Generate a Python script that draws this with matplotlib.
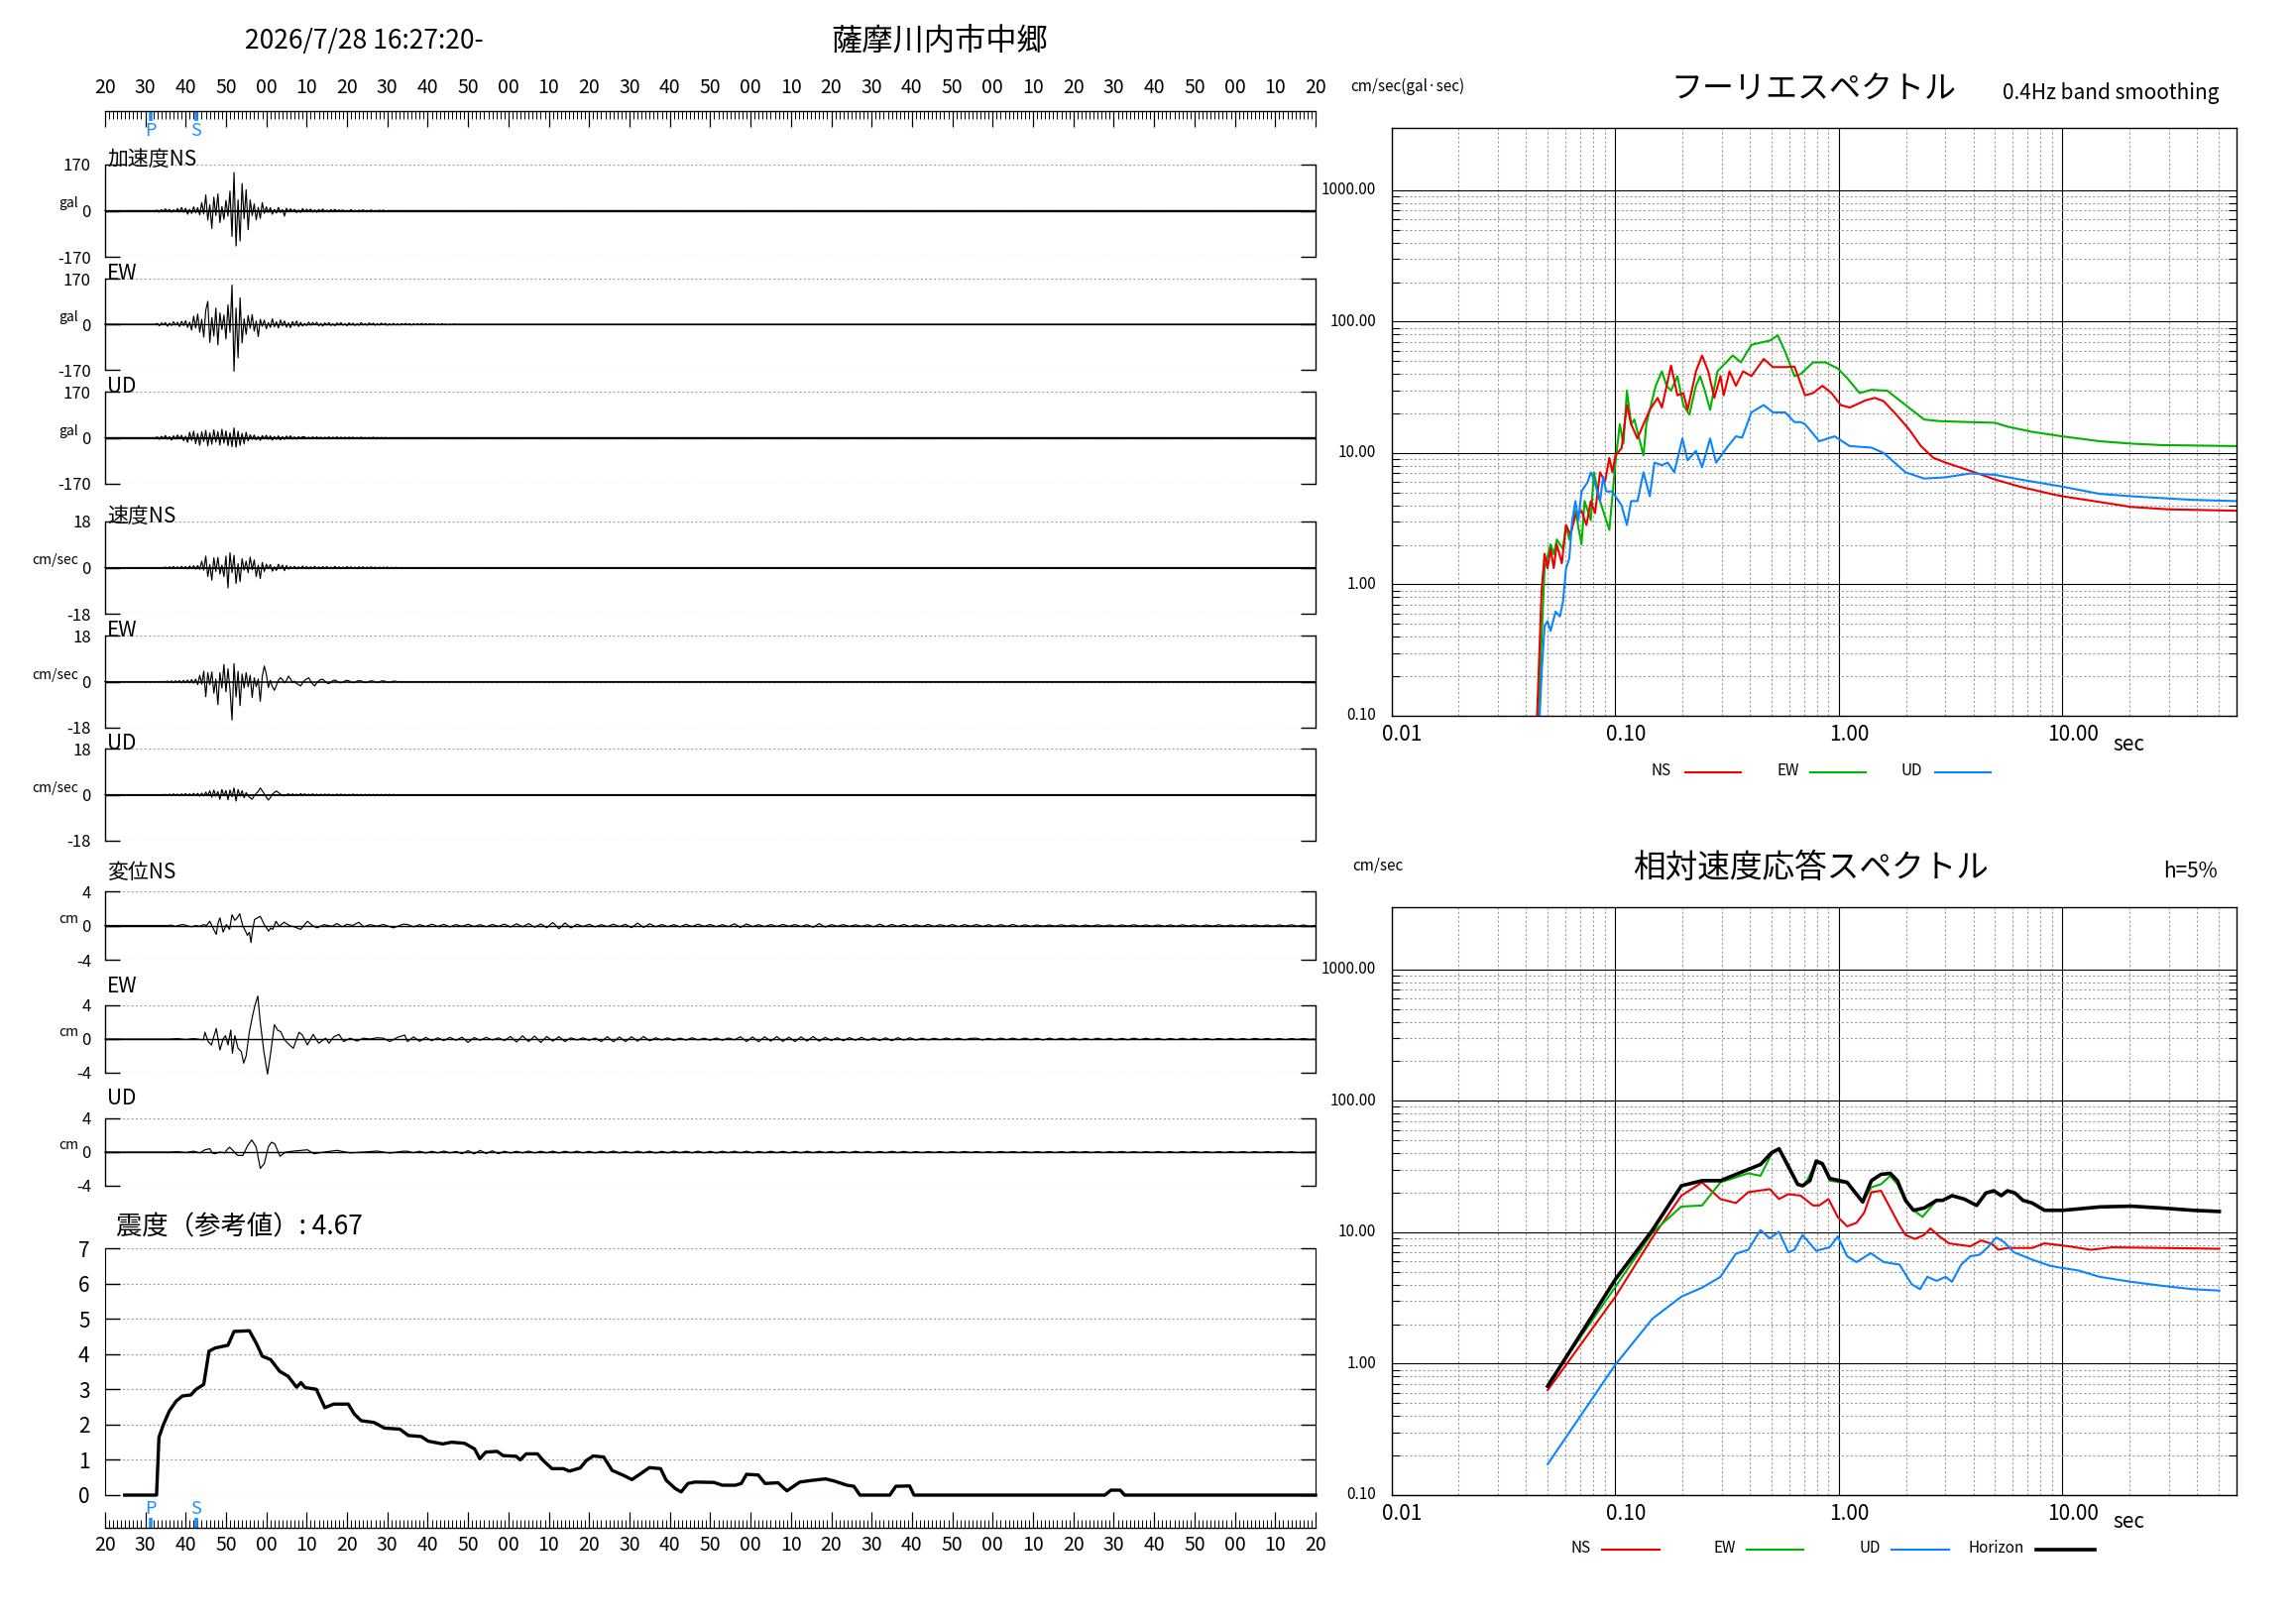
import numpy as np
import matplotlib
matplotlib.use('Agg')
import matplotlib.pyplot as plt
from matplotlib.lines import Line2D
from matplotlib.ticker import FixedLocator, MultipleLocator, NullFormatter
from matplotlib.transforms import blended_transform_factory, ScaledTranslation

plt.rcParams['font.family'] = ['Noto Sans CJK JP', 'DejaVu Sans']

# ---------------- DATA ----------------
title_time = '2026/7/28 16:27:20-'
station = '薩摩川内市中郷'
time_labels = ['20', '30', '40', '50', '00', '10', '20', '30', '40', '50', '00',
               '10', '20', '30', '40', '50', '00', '10', '20', '30', '40', '50',
               '00', '10', '20', '30', '40', '50', '00', '10', '20']
p_time = 11.4
s_time = 22.6

# acceleration (gal), sampled every 0.5 s from the listed start time
acc_t0 = 13.0
acc_ns = [2, -5, 4, -2, 7, -3, 5, -6, 3, -4, 8, -5,
          12, -6, 9, -13, 5, -10, 14, -8, 11, -15,
          30, -12, 58, -35, 22, -66, 50, -18, 62, -44,
          15, -32, 38, -20, 72, -95, 141, -130, 40, -112, 100, -30, 77, -70,
          40, -18, 25, -34, 12, -28, 30, -10,
          14, -6, 11, -13, 5, -9, 12, -7, 4, -20, 9, -5,
          7, -3, 5, -7, 2, -6, 8, -4, 5, -2, 6, -5, 3, -6, 4, -2, 6, -4, 2, -5, 4, -2, 5, -3,
          3, -1, 3, -3, 1, -2, 4, -2, 1, -3, 2, -1, 3, -2, 1, -2, 3, -3, 1, -2, 2, -1, 2, -1]
acc_ew = [3, -6, 5, -2, 6, -8, 4, -5, 9, -3, 7, -9,
          11, -5, 13, -12, 8,
          -22, 30, -14, 38, -30, 18, -48, 52, 85, -68, 25, -44, 60, -77, 42, -20, 34,
          -55, 72, -30, 146, -175, 60, -125, 98,
          -70, 20, -38, 32, -15, 36, -26, 12,
          -46,
          18, -8, 15, -17, 6, -12, 20, -10, 9, -14, 16, -6, 12, -11, 5, -13, 10, -6, 12, -9, 7,
          -7, 3, -5, 8, -4, 6, -2, 7, -6, 3, -7, 5, -3, 6, -5, 2, -6, 5, -3, 6, -4, 2, -6, 5,
          -3, 4, -5, 2, -4, 6, -3, 2, -4, 5, -2, 4, -4, 2, -3, 4, -2, 3, -4, 2, -3, 3,
          -3, 2, -3, 2, -2, 3, -2, 2, -3, 2, -2, 2, -2, 3, -2, 2, -2, 2, -1, 2, -2, 1, -2, 2,
          -1, 1, -2, 1, -1, 1]
acc_ud = [3, -6, 5, -3, 8, -5, 4, -9, 7, -5, 10, -4, 9, -11, 6,
          -17, 20, -10, 24, -22, 15, -28, 22, -14, 27, -30, 18, -24, 29, -16, 22, -27, 31,
          -20, 25, -29, 18, -33, 36, -35, 24, -28, 16, -22, 20, -12,
          11, -6, 10, -8, 5, -10, 8, -4, 9, -6, 7, -9, 5, -6, 7, -8, 4, -6, 6, -3, 7, -5, 3, -5,
          4, -2, 4,
          3, -3, 2, -3, 3, -2, 3, -2, 2, -3, 2, -2, 3, -2, 2, -2, 3, -2, 2, -2, 2, -2, 2, -1,
          2, -2, 1, -2, 2, -1, 1, -2, 1, -1, 2, -1, 1, -1, 1, -1, 1, -1]

# velocity (cm/sec), sampled every 0.5 s
vel_ns_t0 = 15.0
vel_ns = [0.2, -0.3, 0.3, -0.2, 0.4, -0.3, 0.3, -0.4, 0.5, -0.3, 0.4, -0.5, 0.6, -0.4, 0.7, -0.6, 0.8, -0.7,
          2.5, -1.0, 4.5, -3.5, 1.2, -4.9, 3.8, -1.5, 4.0, -2.5,
          1.0, -3.5, 4.5, -7.9, 5.8, -2.0, 4.8, -6.2, 1.5, -5.5, 3.5, -1.0, 2.5, -2.0,
          4.1, -0.8, 3.0, -3.5, 1.0, -4.3, 2.0, -1.5,
          1.3, -0.4, 1.2, -1.4, 0.3, -1.1, 1.3, -0.5, 1.0, -1.2, 0.8,
          -0.6, 0.4, -0.3, 0.5, -0.5, 0.3, -0.4, 0.6, -0.3, 0.4, -0.5, 0.3, -0.2, 0.5, -0.4, 0.3,
          -0.5, 0.4, -0.3, 0.4, -0.3, 0.2, -0.4, 0.5, -0.3, 0.3, -0.4, 0.2, -0.3, 0.4, -0.2, 0.3,
          -0.3, 0.2, -0.4, 0.3, -0.2, 0.3, -0.3, 0.2, -0.2, 0.3, -0.2, 0.2, -0.3, 0.2, -0.2, 0.2,
          -0.1, 0.2, -0.2, 0.1, -0.1, 0.1]
vel_ew_t0 = 15.5
vel_ew = [0.2, -0.3, 0.3, -0.4, 0.3, -0.2, 0.4, -0.5, 0.5, -0.4, 0.6, -0.5, 0.8, -0.6, 1.0, -1.2,
          2.5, -1.0, 4.1, -5.9, 3.5, -1.2, 3.8, -4.5, 1.0, -9.0, 3.5,
          -2.5, 6.7, -4.0, 5.0, -3.0, -15.0, 7.0, -6.0, 4.0, -9.4,
          3.0, -2.5, 3.5, -2.0, 2.5, -6.2, 1.5, -2.0, 1.0, -7.7, 2.0, 6.1, 3.0, -2.3, 0.5,
          -2.0, -3.4, -1.5, 0.5, 1.5, 0.8, -0.5, 0.5, 2.2, 1.0, -0.3, 0.2, -0.8, -1.2, -1.7, -0.5,
          0.5, 1.0, 1.5, 0.2, -1.0, -1.7, -0.5, 0.3, 0.8, 0.9, 0.2, -0.5, -0.8, -0.3, 0.4, 0.6,
          0.2, -0.3, -0.5, -0.2, 0.3, 0.5, 0.3, -0.2, -0.4, -0.3, 0.2, 0.4, 0.3, -0.1, -0.4, -0.3,
          0.1, 0.3, 0.2, -0.2, -0.3, -0.1, 0.2, 0.3, 0.1, -0.2, -0.2, 0.0, 0.2, 0.1]
vel_ud_t0 = 15.0
vel_ud = [0.1, -0.2, 0.2, -0.2, 0.3, -0.2, 0.2, -0.3, 0.3, -0.2, 0.4, -0.3, 0.3, -0.4, 0.5, -0.4,
          0.5, -0.6, 0.6, -0.5,
          1.0, -0.4, 1.5, -1.0, 1.8, -0.6, 1.2, -1.8, 2.0, -0.5, 1.6, -2.0, 1.8, -0.8, 2.6, -2.5,
          2.0, -0.6, 1.5, -1.2,
          0.8, -0.5, -1.2, -1.8, -0.5, 0.5, 1.2, 2.6, 1.5, 0.3, -1.0, -2.1, -1.2, 0.2, 0.8, 1.4,
          0.8, 0.2, -0.3, -0.5, 0.0,
          0.3, -0.2, 0.3, -0.3, 0.2, -0.3, 0.4, -0.2, 0.3, -0.3, 0.2, -0.2, 0.3, -0.2, 0.2, -0.3,
          0.2, -0.2, 0.2, -0.1, 0.2, -0.2, 0.1, -0.2, 0.2, -0.1, 0.2, -0.1, 0.1, -0.2, 0.1, -0.1,
          0.2, -0.1, 0.1, -0.1, 0.1, -0.2, 0.1, -0.1, 0.1, -0.1, 0.1, -0.1, 0.1, -0.1, 0.1, -0.1,
          0.1, -0.1, 0.1, -0.1, 0.1, -0.1]

# displacement (cm): (time s, value) in the main part, then tail values every 1.5 s from 75 s
disp_ns = [(15.8, 0), (16.5, 0.05), (17.5, -0.1), (18.5, 0.05), (19.5, 0.1), (20.5, -0.05),
           (21.5, -0.15), (22.5, 0.0), (23.5, -0.1), (24.5, 0.1), (25.2, 0.0), (26.0, 0.5),
           (26.8, -0.3), (27.6, -1.04), (28.0, 0.2), (28.5, 0.9), (29.3, -0.77), (30.1, 0.1),
           (30.9, -0.45), (31.5, 1.27), (32.2, 0.6), (32.8, 0.9), (33.4, 1.38), (34.2, -0.1),
           (34.8, -0.6), (35.3, -1.15), (35.8, -0.8), (36.2, -2.0), (36.6, -0.5), (37.1, 0.7),
           (38.5, 1.08), (39.5, 0.1), (40.6, -0.65), (41.1, -0.3), (41.6, -0.45), (42.4, 0.5),
           (43.2, -0.1), (44.4, 0.38), (45.7, 0.0), (46.9, -0.15), (48.5, -0.46), (50.2, 0.5),
           (51.4, 0.0), (52.6, -0.27), (54.3, 0.1), (56.3, -0.1), (57.5, 0.23), (58.8, -0.15),
           (60.0, 0.15), (61.4, 0.0), (62.9, 0.38), (64.1, -0.15), (65.7, 0.1), (67.4, -0.08),
           (69.0, 0.12), (71.5, -0.27), (73.9, 0.15)]
disp_ns_tail = [0.12, -0.15, 0.1, -0.12, 0.15, -0.1, 0.13, -0.16, 0.11, -0.09, 0.14, -0.12, 0.1, -0.15,
                0.12, -0.1, 0.16,
                -0.18, 0.2, -0.15, 0.22, -0.2, 0.18, -0.25,
                0.35, -0.38, 0.3, -0.28,
                0.15, -0.12, 0.14, -0.16, 0.1, -0.13, 0.15, -0.12, 0.14,
                -0.25, 0.28, -0.22, 0.2,
                -0.15, 0.12, -0.14, 0.1, -0.16, 0.13, -0.12, 0.15, -0.1, 0.12, -0.14, 0.1, -0.13,
                0.2, -0.22, 0.18,
                -0.12, 0.1, -0.13, 0.11, -0.1, 0.12, -0.09, 0.11, -0.12, 0.1,
                -0.2, 0.22, -0.18,
                0.1, -0.08, 0.1, -0.09, 0.08, -0.1, 0.09,
                -0.15, 0.16, -0.14,
                0.12, -0.1, 0.11, -0.12, 0.09, -0.1, 0.12, -0.11, 0.1, -0.09, 0.11, -0.12, 0.1, -0.08,
                0.11, -0.1, 0.09, -0.11, 0.1, -0.09, 0.12, -0.1, 0.08, -0.1,
                0.07, -0.08, 0.06, -0.07, 0.08, -0.06, 0.07, -0.09, 0.06, -0.07, 0.08, -0.07, 0.06,
                -0.08, 0.07, -0.06, 0.08, -0.07, 0.06, -0.07, 0.07, -0.08, 0.06, -0.07, 0.08, -0.06,
                0.07, -0.08, 0.06, -0.07, 0.08, -0.07, 0.06, -0.08, 0.07, -0.06, 0.07, -0.07, 0.06,
                -0.08, 0.07, -0.06, 0.08, -0.07, 0.06, -0.07]
disp_ew = [(16.0, 0.0), (18.0, 0.05), (20.0, -0.05), (22.0, 0.05), (23.5, -0.05), (24.4, -0.1),
           (24.8, 0.8), (25.6, -0.3), (26.4, -0.7), (27.0, 0.3), (27.6, 1.25), (28.5, -1.3),
           (29.3, 0.0), (29.9, 0.4), (30.5, -0.7), (31.2, 1.06), (31.6, -1.7), (32.2, 0.4),
           (33.0, -1.1), (33.8, -1.5), (34.4, -2.86), (35.0, -2.0), (35.8, 0.86), (36.7, 3.0),
           (37.2, 4.0), (37.9, 5.1), (38.5, 2.0), (39.4, -1.5), (40.3, -4.16), (41.0, -1.9),
           (42.0, 1.7), (42.8, 1.06), (43.6, 0.86), (44.4, 0.0), (45.3, -0.5), (46.7, -1.1),
           (48.1, 0.8), (48.9, 0.5), (50.2, -0.7), (51.6, 0.55), (53.0, -0.5), (54.7, 0.1),
           (55.5, -0.5), (56.7, 0.25), (58.0, 0.55), (59.2, -0.3), (60.8, 0.1), (62.5, -0.25),
           (64.0, 0.1), (65.7, 0.0), (67.5, 0.15), (69.0, 0.1), (70.6, -0.3), (72.5, 0.2),
           (74.3, 0.47)]
disp_ew_tail = [-0.3, 0.25, -0.28, 0.2,
                -0.2, 0.15, -0.18, 0.2, -0.15, 0.22, -0.4, 0.18, -0.15, 0.2, -0.12, 0.15, -0.18,
                0.3, -0.35, 0.38, -0.3, 0.35, -0.4, 0.3, -0.25, 0.28, -0.3,
                0.15, -0.12, 0.14, -0.15, 0.12,
                -0.3, 0.28, -0.32, 0.25, -0.3, 0.27, -0.25, 0.3, -0.22,
                0.15, -0.12, 0.14, -0.16, 0.12, -0.13, 0.15, -0.12, 0.1, -0.14, 0.12, -0.15, 0.13, -0.1,
                0.28, -0.3, 0.25, -0.32, 0.27, -0.25, 0.3, -0.28, 0.22, -0.3, 0.26, -0.24, 0.3, -0.25,
                0.2, -0.18, 0.15, -0.2, 0.17, -0.15, 0.2, -0.16, 0.14, -0.18, 0.15, -0.2, 0.16, -0.14,
                0.15,
                -0.12, 0.1, -0.11, 0.09, -0.1, 0.12, -0.09, 0.1, -0.11, 0.08, 0.1, -0.12, 0.09, -0.1,
                0.11, -0.08, 0.1, -0.09, 0.11, -0.1, 0.09, -0.11, 0.1, -0.08, 0.1, -0.09, 0.11, -0.1,
                0.08, -0.09, 0.1, -0.08, 0.09, -0.1, 0.08, -0.09, 0.1, -0.08, 0.09, -0.07, 0.08, -0.09,
                0.07, -0.08, 0.09, -0.07, 0.08, -0.08, 0.07, -0.08, 0.07, -0.06, 0.08, -0.07, 0.06,
                -0.07, 0.08, -0.06, 0.07, -0.06, 0.06, -0.07, 0.06, -0.05, 0.06, -0.05]
disp_ud = [(16.0, 0.0), (18.0, 0.05), (20.0, -0.05), (22.0, 0.1), (23.5, -0.1), (24.8, 0.27),
           (26.0, 0.4), (26.6, -0.1), (27.2, -0.2), (28.5, 0.0), (29.7, -0.1), (30.3, 0.3),
           (30.9, 0.58), (31.7, 0.2), (32.4, -0.2), (33.0, -0.4), (34.2, -0.4), (35.4, 0.78),
           (36.4, 1.44), (37.5, 0.58), (38.5, -1.94), (39.5, -1.36), (40.5, 0.6), (41.3, 1.17),
           (42.1, 0.97), (43.4, -0.5), (44.8, 0.0), (46.9, 0.12), (50.2, 0.27), (51.8, -0.2),
           (54.3, 0.0), (57.5, 0.2), (60.8, -0.1), (64.1, 0.0), (67.4, 0.12), (70.6, -0.12),
           (73.9, 0.1)]
disp_ud_tail = [0.1, -0.08, 0.1, -0.12, 0.09, -0.1, 0.12, -0.1, 0.08,
                -0.2, 0.18, -0.22, 0.2, -0.18, 0.15, -0.2,
                0.1, -0.12, 0.09, -0.1, 0.12, -0.11, 0.1, -0.09, 0.11, -0.12, 0.1, -0.08, 0.11, -0.1,
                0.09, -0.11, 0.1, -0.09, 0.12, -0.1, 0.08, -0.1, 0.11, -0.09, 0.1, -0.12, 0.09, -0.1,
                0.11, -0.08, 0.1, -0.09, 0.11, -0.1, 0.09, -0.11, 0.1, -0.08, 0.1, -0.09, 0.11, -0.1,
                0.08, -0.09, 0.1, -0.08, 0.09, -0.1, 0.08, -0.09, 0.1, -0.08, 0.09, -0.07, 0.08, -0.09,
                0.07, -0.08, 0.09, -0.07, 0.08, -0.08, 0.07, -0.08, 0.09, -0.07, 0.08, -0.08,
                0.06, -0.07, 0.06, -0.05, 0.06, -0.07, 0.05, -0.06, 0.07, -0.05, 0.06, -0.06, 0.05,
                -0.06, 0.07, -0.05, 0.06, -0.06, 0.05, -0.07, 0.06, -0.05, 0.06, -0.06, 0.05, -0.06,
                0.07, -0.05, 0.06, -0.06, 0.05, -0.06, 0.06, -0.05, 0.07, -0.06, 0.05, -0.06, 0.06,
                -0.05, 0.06, -0.06, 0.05, -0.06, 0.06, -0.05, 0.06, -0.05, 0.05, -0.06, 0.05, -0.05,
                0.06, -0.05, 0.05, -0.06, 0.05, -0.05, 0.05, -0.04, 0.05, -0.05, 0.04, -0.05]

# seismic intensity (reference value) vs time
int_t = [4.9, 12.8, 13.4, 14.5, 16.0, 17.7, 19.2, 21.3, 22.6, 24.5, 25.8, 27.3, 30.5, 32.0, 35.8,
         37.5, 39.0, 41.1, 43.3, 45.4, 47.5, 48.6, 49.6, 52.4, 54.5, 56.7, 60.3, 61.8, 63.5, 66.7,
         69.3, 73.1, 75.2, 78.4, 80.1, 83.7, 85.9, 89.1, 91.6, 92.9, 94.4, 97.2, 98.7, 101.9, 102.9,
         104.4, 107.2, 108.7, 110.8, 113.6, 115.1, 117.8, 119.3, 121.0, 123.6, 125.7, 128.5, 130.6,
         132.8, 134.9, 137.7, 139.1, 141.3, 142.8, 144.5, 146.2, 150.9, 153.0, 156.2, 157.7, 159.0,
         161.9, 163.6, 166.8, 169.0, 172.2, 175.4, 178.6, 180.7, 183.9, 185.6, 187.1, 194.5, 196.0,
         199.4, 200.5, 247.8, 249.3, 251.6, 252.7, 300]
int_v = [0, 0, 1.64, 2.0, 2.39, 2.67, 2.81, 2.84, 3.0, 3.14, 4.08, 4.17, 4.25, 4.64, 4.66, 4.31,
         3.94, 3.84, 3.51, 3.37, 3.06, 3.19, 3.05, 3.0, 2.48, 2.58, 2.58, 2.30, 2.11, 2.06, 1.90,
         1.87, 1.69, 1.66, 1.53, 1.45, 1.50, 1.47, 1.31, 1.03, 1.22, 1.24, 1.12, 1.10, 1.00, 1.17,
         1.17, 0.97, 0.75, 0.75, 0.68, 0.77, 0.98, 1.11, 1.08, 0.70, 0.56, 0.44, 0.61, 0.78, 0.75,
         0.42, 0.19, 0.09, 0.33, 0.37, 0.36, 0.28, 0.28, 0.33, 0.59, 0.57, 0.33, 0.35, 0.12, 0.37,
         0.42, 0.46, 0.40, 0.28, 0.25, 0, 0, 0.25, 0.26, 0, 0, 0.14, 0.14, 0, 0]
intensity_value = '4.67'

# Fourier spectra: (period s, amplitude cm/sec)
fou_ns = [(0.0448, 0.1), (0.0460, 0.34), (0.0469, 0.87), (0.0484, 1.71), (0.0499, 1.33), (0.0515, 1.86),
          (0.0532, 1.33), (0.0549, 2.02), (0.0578, 1.45), (0.0604, 2.83), (0.0632, 2.39), (0.0665, 3.35),
          (0.0708, 3.64), (0.0745, 2.83), (0.0779, 4.31), (0.0814, 3.49), (0.0857, 7.14), (0.0902, 6.04),
          (0.0943, 9.2), (0.0973, 7.14), (0.1004, 9.59), (0.107, 10.9), (0.113, 23.2), (0.118, 16.6),
          (0.126, 12.9), (0.134, 16.6), (0.143, 21.3), (0.155, 26.3), (0.162, 22.2), (0.178, 46.3),
          (0.190, 27.5), (0.202, 28.6), (0.211, 21.3), (0.230, 41.9), (0.245, 55.2), (0.261, 41.9),
          (0.278, 26.3), (0.296, 38.5), (0.306, 27.5), (0.325, 41.9), (0.347, 32.5), (0.374, 41.9),
          (0.407, 38.5), (0.462, 52.0), (0.508, 45.1), (0.577, 45.1), (0.634, 45.5), (0.707, 27.5),
          (0.768, 28.6), (0.845, 32.5), (0.929, 28.6), (1.02, 23.2), (1.12, 22.2), (1.32, 25.2),
          (1.45, 26.3), (1.59, 24.8), (1.81, 19.6), (2.06, 15.2), (2.33, 11.3), (2.65, 9.2),
          (3.01, 8.45), (3.88, 7.32), (5.00, 6.29), (6.45, 5.55), (8.87, 4.89), (10.0, 4.69),
          (14.7, 4.24), (20.3, 3.89), (29.7, 3.73), (60.0, 3.64)]
fou_ew = [(0.0454, 0.1), (0.0469, 0.37), (0.0484, 1.33), (0.0515, 2.02), (0.0532, 1.7), (0.0549, 2.2),
          (0.0585, 1.86), (0.0604, 2.83), (0.0624, 2.2), (0.0665, 3.64), (0.0708, 2.02), (0.0731, 4.31),
          (0.0779, 3.08), (0.0804, 7.14), (0.0857, 4.31), (0.0913, 3.08), (0.0943, 2.6), (0.0973, 4.69),
          (0.1004, 8.45), (0.105, 16.6), (0.109, 11.8), (0.113, 29.9), (0.118, 16.6), (0.122, 18.0),
          (0.130, 11.8), (0.134, 9.59), (0.138, 16.6), (0.143, 21.3), (0.152, 32.5), (0.162, 41.9),
          (0.170, 32.5), (0.178, 29.9), (0.190, 38.5), (0.202, 23.2), (0.215, 19.6), (0.230, 32.5),
          (0.240, 38.5), (0.252, 29.9), (0.266, 21.3), (0.287, 41.9), (0.336, 55.3), (0.365, 49.0),
          (0.407, 66.5), (0.447, 69.3), (0.492, 71.7), (0.534, 78.7), (0.577, 58.6), (0.634, 38.5),
          (0.676, 40.0), (0.768, 49.0), (0.872, 49.0), (0.990, 44.0), (1.09, 37.3), (1.24, 28.6),
          (1.40, 30.3), (1.65, 29.8), (1.99, 23.2), (2.41, 18.0), (2.82, 17.5), (3.88, 17.2),
          (5.00, 17.0), (5.68, 15.9), (7.33, 14.5), (10.0, 13.4), (14.7, 12.3), (20.3, 11.8),
          (27.8, 11.5), (60.0, 11.3)]
fou_ud = [(0.0460, 0.1), (0.0472, 0.246), (0.0484, 0.48), (0.0499, 0.525), (0.0515, 0.443), (0.0542, 0.62),
          (0.0567, 0.571), (0.0585, 0.74), (0.0604, 1.33), (0.0624, 1.57), (0.0644, 3.08), (0.0665, 4.31),
          (0.0686, 3.08), (0.0708, 5.10), (0.0755, 6.04), (0.0779, 7.14), (0.0804, 6.3), (0.0857, 4.31),
          (0.0885, 6.6), (0.0913, 5.1), (0.0973, 5.1), (0.1004, 4.69), (0.107, 3.98), (0.113, 2.83),
          (0.118, 4.31), (0.126, 4.31), (0.134, 7.14), (0.143, 4.69), (0.150, 8.45), (0.162, 8.1),
          (0.172, 8.45), (0.184, 7.14), (0.200, 12.9), (0.211, 8.8), (0.230, 10.4), (0.245, 7.8),
          (0.266, 12.9), (0.283, 8.45), (0.315, 10.9), (0.347, 13.4), (0.370, 13.1), (0.407, 20.4),
          (0.462, 23.2), (0.508, 20.4), (0.577, 20.4), (0.634, 17.2), (0.676, 17.2), (0.707, 16.6),
          (0.818, 12.3), (0.959, 13.4), (1.12, 11.3), (1.40, 11.0), (1.59, 10.0), (1.99, 7.14),
          (2.41, 6.4), (3.01, 6.54), (3.88, 7.0), (5.00, 6.83), (6.45, 6.3), (10.0, 5.55),
          (14.7, 4.89), (20.3, 4.69), (38.3, 4.4), (60.0, 4.31)]

# relative velocity response spectra, h=5%: (period s, cm/sec)
rsp_ns = [(0.05, 0.629), (0.1004, 3.24), (0.147, 9.14), (0.198, 19.0), (0.245, 24.0), (0.296, 17.9),
          (0.347, 16.7), (0.394, 20.2), (0.492, 21.3), (0.541, 17.9), (0.595, 19.5), (0.676, 19.0),
          (0.768, 16.0), (0.818, 16.0), (0.90, 17.9), (0.99, 13.1), (1.09, 11.1), (1.20, 11.8),
          (1.30, 14.1), (1.40, 20.2), (1.545, 20.7), (1.70, 15.3), (1.87, 11.3), (1.99, 9.54),
          (2.19, 8.9), (2.41, 9.54), (2.57, 10.7), (2.82, 9.3), (3.11, 8.24), (3.88, 7.82),
          (4.33, 8.67), (4.85, 8.16), (5.17, 7.36), (5.68, 7.6), (7.33, 7.6), (8.32, 8.24),
          (10.7, 7.82), (13.4, 7.36), (16.7, 7.68), (27.8, 7.6), (50.3, 7.49)]
rsp_ew = [(0.05, 0.697), (0.1004, 3.85), (0.147, 9.96), (0.198, 15.7), (0.245, 16.0), (0.296, 24.0),
          (0.394, 28.1), (0.447, 26.9), (0.501, 39.6), (0.541, 43.2), (0.595, 30.6), (0.663, 22.6),
          (0.707, 23.2), (0.793, 33.9), (0.845, 32.8), (0.911, 24.7), (1.09, 23.6), (1.28, 17.0),
          (1.40, 22.0), (1.545, 23.2), (1.70, 26.9), (1.83, 23.2), (1.99, 17.0), (2.16, 14.7),
          (2.37, 13.1), (2.74, 17.5), (2.92, 17.5), (3.21, 19.0), (3.64, 17.9), (4.14, 16.0),
          (4.55, 19.9), (4.94, 20.7), (5.33, 19.0), (5.68, 20.7), (6.14, 19.9), (6.66, 17.5),
          (7.33, 16.7), (8.32, 14.7), (10.1, 14.7), (14.7, 15.6), (20.3, 15.8), (27.8, 15.3),
          (38.3, 14.7), (50.3, 14.4)]
rsp_ud = [(0.05, 0.172), (0.1004, 0.985), (0.147, 2.20), (0.198, 3.24), (0.245, 3.79), (0.296, 4.58),
          (0.347, 6.87), (0.394, 7.36), (0.447, 10.4), (0.492, 8.98), (0.541, 10.1), (0.595, 7.05),
          (0.634, 7.36), (0.689, 9.54), (0.793, 7.23), (0.911, 7.69), (0.99, 9.3), (1.09, 6.58),
          (1.20, 5.93), (1.39, 6.93), (1.59, 5.93), (1.87, 5.68), (2.12, 4.02), (2.31, 3.69),
          (2.49, 4.58), (2.74, 4.27), (3.01, 4.58), (3.21, 4.2), (3.53, 5.68), (3.88, 6.58),
          (4.27, 6.75), (4.64, 7.69), (5.07, 9.14), (5.51, 8.38), (6.06, 7.05), (7.33, 6.19),
          (8.87, 5.54), (10.0, 5.35), (11.8, 5.12), (14.7, 4.58), (20.3, 4.2), (27.8, 3.92),
          (38.3, 3.69), (50.3, 3.6)]
rsp_h = [(0.05, 0.674), (0.1004, 4.39), (0.147, 10.4), (0.198, 22.6), (0.245, 24.7), (0.296, 24.7),
         (0.394, 30.1), (0.447, 32.8), (0.501, 40.3), (0.541, 43.2), (0.595, 31.9), (0.655, 23.2),
         (0.689, 22.6), (0.743, 24.7), (0.793, 34.8), (0.845, 33.3), (0.911, 25.7), (1.09, 24.0),
         (1.28, 17.0), (1.40, 24.7), (1.545, 27.6), (1.70, 28.1), (1.83, 24.7), (1.99, 17.5),
         (2.16, 14.7), (2.41, 15.3), (2.74, 17.5), (2.92, 17.5), (3.21, 19.0), (3.64, 17.9),
         (4.14, 16.0), (4.55, 19.9), (4.94, 20.7), (5.33, 19.0), (5.68, 20.7), (6.14, 19.9),
         (6.66, 17.5), (7.33, 16.7), (8.32, 14.7), (10.1, 14.7), (14.7, 15.6), (20.3, 15.8),
         (27.8, 15.3), (38.3, 14.7), (50.3, 14.4)]

spec_xticks = [0.01, 0.1, 1, 10]
spec_xlabels = ['0.01', '0.10', '1.00', '10.00']
spec_yticks = [0.1, 1, 10, 100, 1000]
spec_ylabels = ['0.10', '1.00', '10.00', '100.00', '1000.00']

# ---------------- FIGURE ----------------
W, H = 2316, 1637
fig = plt.figure(figsize=(W / 100, H / 100), dpi=100)
fig.patch.set_facecolor('white')


def fx(px):
    return px / W


def fy(py):
    return 1 - py / H


AX_L, AX_R = 105.8, 1327.0
GRAY = '#9a9a9a'
DOT = (0, (1.5, 2.0))
RED, GREEN, BLUE = '#ee0000', '#00b400', '#0a84ff'
PS_BLUE = '#1e8fff'


def sampled(t0, vals, dt=0.5):
    t = t0 + dt * np.arange(len(vals))
    return (np.concatenate([[0, t0 - dt], t, [t[-1] + dt, 300]]),
            np.concatenate([[0, 0], np.asarray(vals, float), [0, 0]]))


def paired(pairs, tail):
    t = [p[0] for p in pairs]
    v = [p[1] for p in pairs]
    tt = 75.0 + 1.5 * np.arange(len(tail))
    return (np.concatenate([[0], t, tt, [300]]),
            np.concatenate([[0], v, tail, [0]]))


def fmt(v):
    return str(v)


def wave_panel(top, bottom, lim, unit, t, v, base_lw):
    ax = fig.add_axes([fx(AX_L), fy(bottom), fx(AX_R) - fx(AX_L), (bottom - top) / H])
    ax.set_xlim(0, 300)
    ax.set_ylim(-lim, lim)
    for s in ('top', 'bottom'):
        ax.spines[s].set_visible(False)
    for s in ('left', 'right'):
        ax.spines[s].set_linewidth(1.0)
    for yv in (-lim, 0, lim):
        ax.axhline(yv, color=GRAY, lw=0.9, ls=DOT, zorder=1)
    ax.plot([0, 300], [0, 0], color='black', lw=base_lw, zorder=2)
    ax.plot(t, v, color='black', lw=0.85, zorder=3, clip_on=False)
    ax.set_xticks([])
    ax.set_yticks([lim, 0, -lim], [fmt(lim), '0', fmt(-lim)])
    ax.tick_params(axis='y', direction='in', length=11, width=1, left=True, right=True,
                   labelsize=12, pad=10)
    tr = blended_transform_factory(fig.transFigure, ax.transData)
    ax.text(fx(79), 0, unit, transform=tr, ha='right', va='bottom', fontsize=10)
    return ax


# waveform panels: (top px, bottom px, label y px, label)
panels = [
    (166, 259, 161, '加速度NS', 170, 'gal', sampled(acc_t0, acc_ns), 1.6),
    (281, 373, 276, 'EW', 170, 'gal', sampled(acc_t0, acc_ew), 0.9),
    (395, 488, 390, 'UD', 170, 'gal', sampled(acc_t0, acc_ud), 1.6),
    (526, 619, 521, '速度NS', 18, 'cm/sec', sampled(vel_ns_t0, vel_ns), 1.3),
    (641, 734, 636, 'EW', 18, 'cm/sec', sampled(vel_ew_t0, vel_ew), 1.1),
    (755, 848, 750, 'UD', 18, 'cm/sec', sampled(vel_ud_t0, vel_ud), 1.3),
    (899, 968, 880, '変位NS', 4, 'cm', paired(disp_ns, disp_ns_tail), 1.0),
    (1014, 1082, 995, 'EW', 4, 'cm', paired(disp_ew, disp_ew_tail), 1.0),
    (1128, 1196, 1108, 'UD', 4, 'cm', paired(disp_ud, disp_ud_tail), 1.0),
]
for top, bottom, ly, name, lim, unit, (t, v), blw in panels:
    wave_panel(top, bottom, lim, unit, t, v, blw)
    fig.text(fx(108), fy(ly), name, ha='left', va='center', fontsize=15)

# intensity panel
axi = fig.add_axes([fx(AX_L), fy(1508), fx(AX_R) - fx(AX_L), (1508 - 1259) / H])
axi.set_xlim(0, 300)
axi.set_ylim(0, 7)
for s in ('top', 'bottom'):
    axi.spines[s].set_visible(False)
for k in range(8):
    axi.axhline(k, color=GRAY, lw=0.9, ls=DOT, zorder=1)
axi.plot(int_t, int_v, color='black', lw=2.4, zorder=3, clip_on=False)
axi.set_xticks([])
axi.set_yticks(range(8), [str(k) for k in range(8)])
axi.tick_params(axis='y', direction='in', length=11, width=1, left=True, right=True,
                labelsize=15, pad=11)
fig.text(fx(117), fy(1238), '震度（参考値）: ' + intensity_value, ha='left', va='center', fontsize=19)


# time rulers
def ruler(y_line, top_side):
    w = fx(AX_R) - fx(AX_L)
    if top_side:
        ax = fig.add_axes([fx(AX_L), fy(y_line) - 0.001, w, 0.001])
    else:
        ax = fig.add_axes([fx(AX_L), fy(y_line), w, 0.001])
    ax.patch.set_visible(False)
    ax.set_xlim(0, 300)
    ax.set_ylim(0, 1)
    for s in ('left', 'right'):
        ax.spines[s].set_visible(False)
    ax.spines['bottom' if top_side else 'top'].set_visible(False)
    ax.spines['top' if top_side else 'bottom'].set_linewidth(1.0)
    ax.set_xticks(np.arange(0, 301, 10), time_labels)
    ax.xaxis.set_minor_locator(MultipleLocator(1))
    ax.set_yticks([])
    if top_side:
        ax.tick_params(axis='x', which='both', direction='in', top=True, bottom=False,
                       labeltop=True, labelbottom=False)
        ax.tick_params(axis='x', which='major', pad=9)
    else:
        ax.tick_params(axis='x', which='both', direction='in', top=False, bottom=True,
                       labeltop=False, labelbottom=True)
        ax.tick_params(axis='x', which='major', pad=5)
    ax.tick_params(axis='x', which='major', length=11.5, width=0.9, labelsize=14)
    ax.tick_params(axis='x', which='minor', length=5.8, width=0.7)
    tr = blended_transform_factory(ax.transData, fig.transFigure)
    for tt, lab in ((p_time, 'P'), (s_time, 'S')):
        if top_side:
            ax.plot([tt, tt], [fy(y_line), fy(y_line + 10)], transform=tr, color=PS_BLUE,
                    lw=2.6, clip_on=False, solid_capstyle='butt')
            ax.text(tt, fy(y_line + 20), lab, transform=tr, color=PS_BLUE, ha='center',
                    va='center', fontsize=13)
        else:
            ax.plot([tt, tt], [fy(y_line + 1), fy(y_line - 10)], transform=tr, color=PS_BLUE,
                    lw=2.6, clip_on=False, solid_capstyle='butt')
            ax.text(tt, fy(y_line - 19), lab, transform=tr, color=PS_BLUE, ha='center',
                    va='center', fontsize=13)
    return ax


ruler(112, True)
ruler(1541, False)

fig.text(fx(367), fy(42), title_time, ha='center', va='center', fontsize=19)
fig.text(fx(948), fy(42), station, ha='center', va='center', fontsize=22.5)

# spectra
SX0, SX1 = 1403.5, 2255.9
ymin_ticks = [k * 10.0 ** e for e in (-1, 0, 1, 2) for k in range(2, 10)]
xmin_ticks = [k * 10.0 ** e for e in (-2, -1, 0, 1) for k in range(2, 10) if k * 10.0 ** e < 60]


def spec_axes(top, bottom):
    ax = fig.add_axes([fx(SX0), fy(bottom), fx(SX1) - fx(SX0), (bottom - top) / H])
    ax.set_xscale('log')
    ax.set_yscale('log')
    ax.set_xlim(0.01, 60)
    ax.set_ylim(0.1, 3000)
    ax.xaxis.set_major_locator(FixedLocator(spec_xticks))
    ax.xaxis.set_minor_locator(FixedLocator(xmin_ticks))
    ax.yaxis.set_major_locator(FixedLocator(spec_yticks))
    ax.yaxis.set_minor_locator(FixedLocator(ymin_ticks))
    ax.set_xticklabels(spec_xlabels)
    ax.set_yticklabels(spec_ylabels)
    ax.xaxis.set_minor_formatter(NullFormatter())
    ax.yaxis.set_minor_formatter(NullFormatter())
    ax.grid(which='major', color='black', lw=0.8, ls='-')
    ax.grid(which='minor', color=GRAY, lw=0.8, ls=(0, (2, 2)))
    ax.set_axisbelow(True)
    ax.tick_params(axis='x', which='both', length=0, labelsize=15, pad=6)
    ax.tick_params(axis='y', which='both', direction='in', left=True, right=True,
                   labelsize=11, pad=11)
    ax.tick_params(axis='y', which='minor', length=6, width=0.8)
    ax.tick_params(axis='y', which='major', length=0)
    for s in ax.spines.values():
        s.set_linewidth(1.0)
    off = ScaledTranslation(11 / 100, 0, fig.dpi_scale_trans)
    for lb in ax.get_xticklabels():
        lb.set_transform(lb.get_transform() + off)
    offy = ScaledTranslation(0, 2 / 100, fig.dpi_scale_trans)
    for lb in ax.get_yticklabels():
        lb.set_transform(lb.get_transform() + offy)
    return ax


def xy(pairs):
    return [p[0] for p in pairs], [p[1] for p in pairs]


axf = spec_axes(128.7, 722)
for data, c in ((fou_ew, GREEN), (fou_ns, RED), (fou_ud, BLUE)):
    axf.plot(*xy(data), color=c, lw=1.5)

axr = spec_axes(914.6, 1508)
for data, c, lw in ((rsp_ns, RED, 1.5), (rsp_ew, GREEN, 1.5), (rsp_ud, BLUE, 1.5), (rsp_h, 'black', 2.6)):
    axr.plot(*xy(data), color=c, lw=lw)

fig.text(fx(1829), fy(91), 'フーリエスペクトル', ha='center', va='center', fontsize=23)
fig.text(fx(2129), fy(94), '0.4Hz band smoothing', ha='center', va='center', fontsize=15)
fig.text(fx(1420), fy(87), 'cm/sec(gal·sec)', ha='center', va='center', fontsize=11)
fig.text(fx(2147), fy(751), 'sec', ha='center', va='center', fontsize=15)

fig.text(fx(1827), fy(876), '相対速度応答スペクトル', ha='center', va='center', fontsize=23.5)
fig.text(fx(2210), fy(879), 'h=5%', ha='center', va='center', fontsize=15)
fig.text(fx(1390), fy(873), 'cm/sec', ha='center', va='center', fontsize=11)
fig.text(fx(2147), fy(1535), 'sec', ha='center', va='center', fontsize=15)


def legend(y, items):
    for label, tx, x0, x1, c, lw in items:
        fig.text(fx(tx), fy(y), label, ha='center', va='center', fontsize=11)
        fig.lines.append(Line2D([fx(x0), fx(x1)], [fy(y + 2), fy(y + 2)],
                                transform=fig.transFigure, color=c, lw=lw))


legend(777, [('NS', 1676, 1700, 1756, RED, 1.5),
             ('EW', 1804, 1826, 1882, GREEN, 1.5),
             ('UD', 1928, 1952, 2008, BLUE, 1.5)])
legend(1561, [('NS', 1595, 1616, 1674, RED, 1.5),
              ('EW', 1740, 1762, 1819, GREEN, 1.5),
              ('UD', 1886, 1908, 1966, BLUE, 1.5),
              ('Horizon', 2014, 2054, 2113, 'black', 2.6)])

fig.savefig('out.png', dpi=100, facecolor='white')
